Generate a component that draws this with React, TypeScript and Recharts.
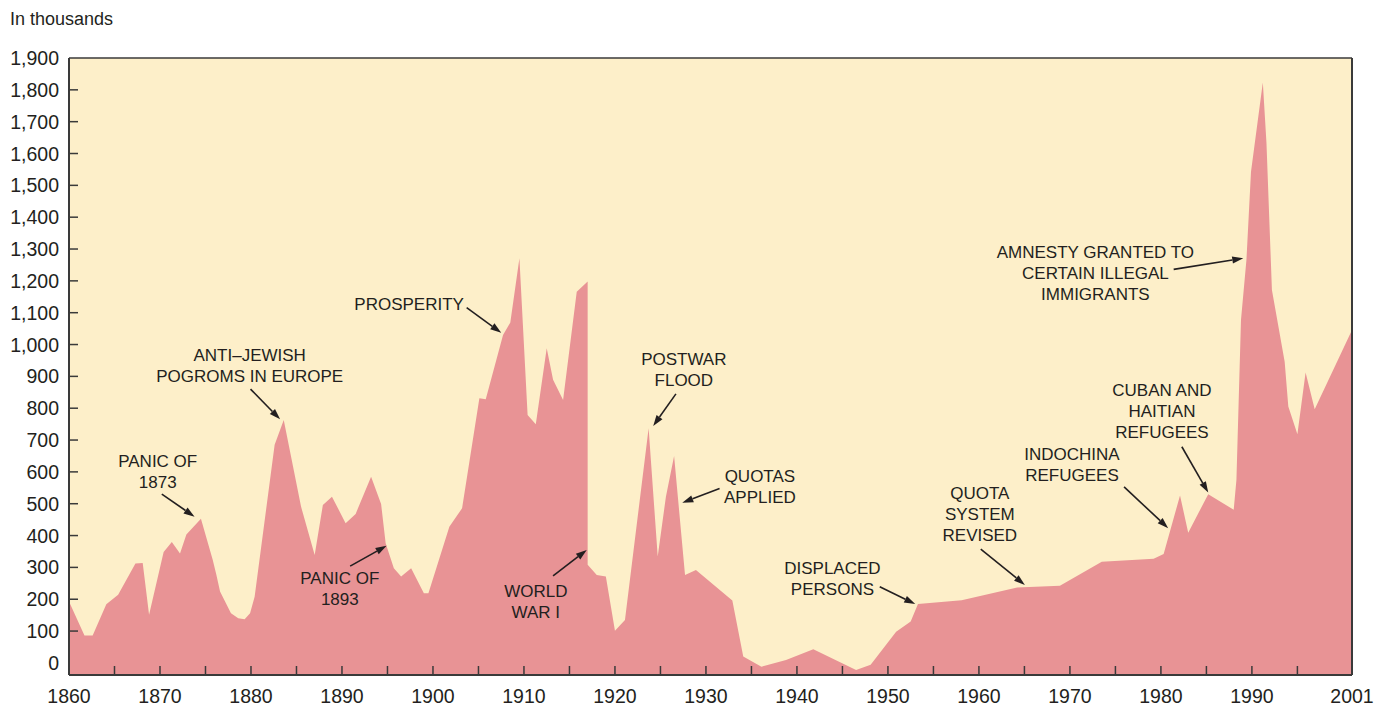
import React from "react";
import {
  Area,
  AreaChart,
  CartesianGrid,
  ReferenceDot,
  ReferenceLine,
  XAxis,
  YAxis,
} from "recharts";

// vertices of the immigration curve (year, thousands)
const years = [
  1860.0, 1861.7, 1862.6, 1864.1, 1865.4, 1867.3, 1868.1, 1868.8, 1870.4, 1871.3,
  1872.2, 1872.9, 1874.5, 1875.8, 1876.2, 1876.6, 1877.8, 1878.6, 1879.3, 1879.9,
  1880.4, 1882.6, 1883.6, 1885.5, 1887.0, 1887.9, 1888.9, 1890.4, 1891.5, 1893.2,
  1894.3, 1894.8, 1895.7, 1896.5, 1897.6, 1899.0, 1899.5, 1901.8, 1903.2, 1905.1,
  1905.8, 1907.7, 1908.5, 1909.5, 1910.4, 1911.3, 1912.5, 1913.2, 1914.3, 1915.8,
  1917.0, 1917.0, 1918.0, 1919.0, 1920.0, 1921.1, 1923.7, 1924.7, 1925.6, 1926.5,
  1927.7, 1928.9, 1932.9, 1934.1, 1936.1, 1938.8, 1941.8, 1946.5, 1948.1, 1950.9,
  1952.5, 1953.3, 1958.1, 1964.2, 1968.9, 1973.5, 1979.2, 1980.3, 1982.1, 1983.0,
  1985.2, 1988.0, 1988.3, 1988.8, 1989.4, 1989.9, 1991.2, 1991.6, 1992.2, 1993.6,
  1994.0, 1995.0, 1995.9, 1996.9, 2001.0,
];
const immigrants = [
  193, 86, 86, 184, 214, 312, 314, 151, 348, 380,
  344, 403, 453, 323, 276, 224, 156, 140, 137, 156,
  208, 685, 763, 491, 339, 496, 522, 439, 468, 585,
  499, 376, 297, 271, 297, 219, 219, 428, 486, 831,
  828, 1030, 1069, 1271, 779, 750, 988, 889, 826, 1166,
  1198, 308, 276, 271, 101, 135, 737, 334, 522, 650,
  276, 292, 196, 20, -12, 9, 43, -22, -6, 98,
  130, 185, 197, 237, 242, 318, 327, 342, 526, 409,
  530, 481, 575, 1077, 1266, 1543, 1823, 1633, 1171, 946,
  805, 718, 912, 797, 1046,
];

const xTicks = [
  1860, 1865, 1870, 1875, 1880, 1885, 1890, 1895, 1900, 1905, 1910, 1915, 1920,
  1925, 1930, 1935, 1940, 1945, 1950, 1955, 1960, 1965, 1970, 1975, 1980, 1985,
  1990, 1995, 2001,
];
const yTicks = [
  0, 100, 200, 300, 400, 500, 600, 700, 800, 900, 1000, 1100, 1200, 1300, 1400,
  1500, 1600, 1700, 1800, 1900,
];

// callouts: text anchor (year, value), arrow from -> to
const notes = [
  { lines: ["PANIC OF", "1873"], at: [1869.75, 634], from: [1870.2, 530], to: [1873.8, 459] },
  { lines: ["ANTI–JEWISH", "POGROMS IN EUROPE"], at: [1879.86, 967], from: [1879.95, 860], to: [1883.2, 765] },
  { lines: ["PANIC OF", "1893"], at: [1889.76, 267], from: [1890.9, 304], to: [1894.9, 368] },
  { lines: ["PROSPERITY"], at: [1903.4, 1127], from: [1903.7, 1116], to: [1907.5, 1037], end: true },
  { lines: ["WORLD", "WAR I"], at: [1911.3, 226], from: [1913.2, 273], to: [1916.9, 355] },
  { lines: ["POSTWAR", "FLOOD"], at: [1927.57, 955], from: [1926.7, 845], to: [1924.2, 744] },
  { lines: ["QUOTAS", "APPLIED"], at: [1935.93, 587], from: [1931.5, 548], to: [1927.4, 503] },
  { lines: ["DISPLACED", "PERSONS"], at: [1943.9, 298], from: [1949.1, 239], to: [1953.0, 185] },
  { lines: ["QUOTA", "SYSTEM", "REVISED"], at: [1960.1, 534], from: [1960.2, 357], to: [1965.05, 245] },
  { lines: ["INDOCHINA", "REFUGEES"], at: [1970.23, 655], from: [1975.95, 553], to: [1980.8, 423] },
  { lines: ["CUBAN AND", "HAITIAN", "REFUGEES"], at: [1980.11, 857], from: [1982.3, 679], to: [1985.2, 535] },
  { lines: ["AMNESTY GRANTED TO", "CERTAIN ILLEGAL", "IMMIGRANTS"], at: [1972.8, 1292], from: [1981.4, 1236], to: [1989.05, 1271] },
];

const Y_MIN = -38;
const FONT = "'Liberation Sans', Arial, sans-serif";
const INK = "#231F20";
const AXIS = "#3a3a3a";
const CREAM = "#FDEFC9";
const PINK = "#E89395";

const data = years.map((year, i) => ({ year, value: immigrants[i] }));

function XTick({ x, y, payload }: any) {
  const v = payload.value;
  const labelled = v % 10 === 0 || v === 2001;
  return (
    <g>
      {v !== 1860 && v !== 2001 && (
        <line x1={x} x2={x} y1={y} y2={y - 9} stroke={AXIS} strokeWidth={1.5} />
      )}
      {labelled && (
        <text x={x} y={y + 28} textAnchor="middle" fontSize={19.5} fontFamily={FONT} fill={INK}>
          {v}
        </text>
      )}
    </g>
  );
}

function YTick({ x, y, payload }: any) {
  const v = payload.value;
  return (
    <g>
      {v !== 0 && v !== 1900 && (
        <line x1={x} x2={x + 9} y1={y} y2={y} stroke={AXIS} strokeWidth={1.5} />
      )}
      <text x={x - 10} y={y + 7} textAnchor="end" fontSize={19.5} fontFamily={FONT} fill={INK}>
        {v.toLocaleString("en-US")}
      </text>
    </g>
  );
}

function noteText(lines: string[], end?: boolean) {
  return (props: any) => (
    <text
      x={props.cx}
      y={props.cy + 6}
      textAnchor={end ? "end" : "middle"}
      fontSize={17}
      fontFamily={FONT}
      fill={INK}
    >
      {lines.map((l, i) => (
        <tspan key={i} x={props.cx} dy={i === 0 ? 0 : 21}>
          {l}
        </tspan>
      ))}
    </text>
  );
}

function Arrow(props: any) {
  const { x1, y1, x2, y2 } = props;
  const ang = Math.atan2(y2 - y1, x2 - x1);
  const len = 11;
  const half = 3.6;
  const bx = x2 - len * Math.cos(ang);
  const by = y2 - len * Math.sin(ang);
  const px = -Math.sin(ang) * half;
  const py = Math.cos(ang) * half;
  return (
    <g>
      <line x1={x1} y1={y1} x2={bx} y2={by} stroke={INK} strokeWidth={1.6} />
      <polygon points={`${x2},${y2} ${bx + px},${by + py} ${bx - px},${by - py}`} fill={INK} />
    </g>
  );
}

export default function App() {
  return (
    <div style={{ position: "absolute", left: 0, top: 0, width: 1384, height: 709, background: "#fff" }}>
      <svg width={200} height={40} style={{ position: "absolute", left: 0, top: 0 }}>
        <text x={10} y={25} fontSize={18} fontFamily={FONT} fill={INK}>
          In thousands
        </text>
      </svg>
      <AreaChart
        width={1384}
        height={709}
        data={data}
        margin={{ top: 58, right: 32, bottom: 0, left: 0 }}
      >
        <CartesianGrid fill={CREAM} horizontal={false} vertical={false} />
        <Area
          type="linear"
          dataKey="value"
          stroke="none"
          fill={PINK}
          fillOpacity={1}
          baseValue={Y_MIN}
          isAnimationActive={false}
          dot={false}
          activeDot={false}
        />
        <XAxis
          type="number"
          dataKey="year"
          domain={[1860, 2001]}
          ticks={xTicks}
          interval={0}
          height={34}
          tickSize={0}
          tickMargin={0}
          tickLine={false}
          axisLine={{ stroke: AXIS, strokeWidth: 2 }}
          tick={<XTick />}
          allowDataOverflow
        />
        <YAxis
          type="number"
          domain={[Y_MIN, 1900]}
          ticks={yTicks}
          interval={0}
          width={69}
          tickSize={0}
          tickMargin={0}
          tickLine={false}
          axisLine={{ stroke: AXIS, strokeWidth: 2 }}
          tick={<YTick />}
          allowDataOverflow
        />
        <ReferenceLine y={1900} stroke={AXIS} strokeWidth={1.5} />
        <ReferenceLine x={2001} stroke={AXIS} strokeWidth={2} />
        {notes.map((n, i) => (
          <ReferenceLine
            key={`a${i}`}
            segment={[
              { x: n.from[0], y: n.from[1] },
              { x: n.to[0], y: n.to[1] },
            ]}
            shape={<Arrow />}
          />
        ))}
        {notes.map((n, i) => (
          <ReferenceDot
            key={`t${i}`}
            x={n.at[0]}
            y={n.at[1]}
            r={1}
            shape={noteText(n.lines, n.end)}
          />
        ))}
      </AreaChart>
    </div>
  );
}
